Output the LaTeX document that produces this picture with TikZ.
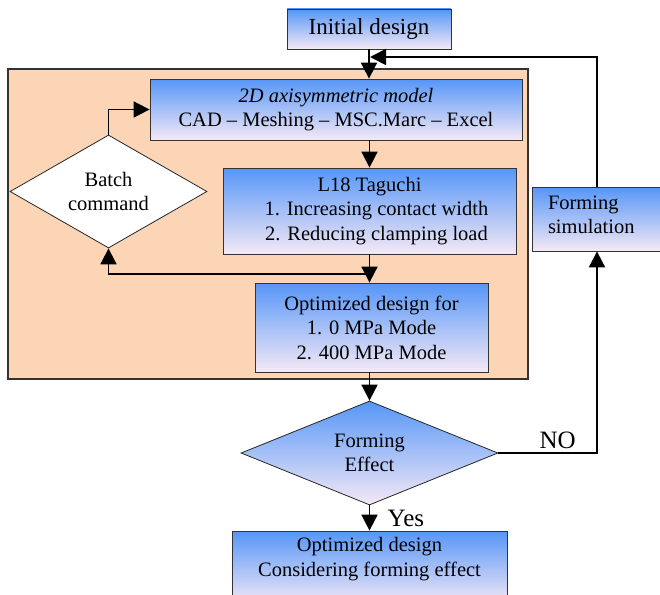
\documentclass[tikz,border=0pt]{standalone}
\usepackage{fontspec}
\setmainfont{Liberation Serif}
\usepackage{tikz}
\usepackage{xcolor}
\usetikzlibrary{shapes.geometric,arrows.meta}

\definecolor{boxtop}{RGB}{86,150,247}
\definecolor{boxbottom}{RGB}{245,233,246}
\definecolor{peach}{RGB}{251,213,181}

\begin{document}
\begin{tikzpicture}[x=1pt, y=-1pt,
  every node/.style = {font=\fontsize{20.5}{24.5}\selectfont, align=center},
  stepbox/.style = {shape=rectangle, draw=black!80, line width=0.8pt,
    top color=boxtop, bottom color=boxbottom, inner sep=0pt},
  decision/.style = {shape=diamond, draw=black!85, line width=0.8pt, inner sep=0pt},
  flow/.style = {line width=1.8pt, -{Triangle[width=16pt,length=16pt]}}]
  \useasboundingbox (0,0) rectangle (660,594);
  \fill[peach, draw=black!80, line width=1.6pt] (8,69) rectangle (528,379);

  \node[stepbox, minimum width=164pt, minimum height=40pt,
    font=\fontsize{23}{27}\selectfont] (init) at (369,29) {Initial design};
  \node[stepbox, minimum width=372pt, minimum height=61pt] (model) at (336,109.5)
    {\textit{2D axisymmetric model}\\CAD -- Meshing -- MSC.Marc -- Excel};
  \node[stepbox, minimum width=293pt, minimum height=86pt] (taguchi) at (369.5,211)
    {L18 Taguchi\\\hspace{14pt}1. Increasing contact width\\\hspace{14pt}2. Reducing clamping load};
  \node[stepbox, minimum width=233pt, minimum height=89pt] (opt) at (371.5,327.5)
    {Optimized design for\\1. 0 MPa Mode\\2. 400 MPa Mode};
  \node[decision, fill=white, aspect=1.74, minimum width=197pt, minimum height=113pt]
    (batch) at (108.5,191.5) {Batch\\command};
  \node[stepbox, align=left, text width=98pt, inner xsep=16pt, minimum height=64pt,
    text depth=33pt] (fsim) at (597,219) {Forming\\simulation};
  \node[decision, top color=boxtop, bottom color=boxbottom, aspect=2.47,
    minimum width=257pt, minimum height=104pt] (effect) at (369.5,453) {Forming\\Effect};
  \node[stepbox, minimum width=275pt, minimum height=74pt, text depth=22pt] (final) at (369.5,568)
    {Optimized design\\Considering forming effect};

  \coordinate (back) at (370,57);
  \coordinate (loop) at (369.5,274);

  \draw[flow] (init.south) -- (init.south |- model.north);
  \draw[flow] (fsim.north) |- (back);
  \draw[flow] (taguchi.north |- model.south) -- (taguchi.north);
  \draw[flow] (taguchi.south) -- (taguchi.south |- opt.north);
  \draw[flow] (loop) -| (batch.south);
  \draw[flow] (batch.north) |- (model.west);
  \draw[flow] (effect.north |- opt.south) -- (effect.north);
  \draw[flow] (effect.south) -- node[anchor=west, xshift=14pt,
    font=\fontsize{25}{29}\selectfont] {Yes} (final.north);
  \draw[flow] (effect.east) -| node[pos=0.3, above,
    font=\fontsize{25}{29}\selectfont] {NO} (fsim.south);
\end{tikzpicture}
\end{document}
